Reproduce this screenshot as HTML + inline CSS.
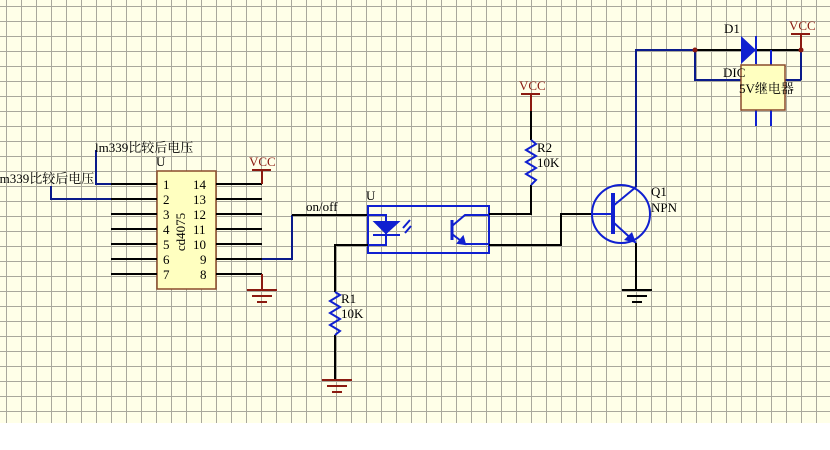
<!DOCTYPE html>
<html><head><meta charset="utf-8"><style>
body{margin:0;width:830px;height:450px;overflow:hidden;background:#fff;position:relative}
#grid{position:absolute;left:0;top:0;width:830px;height:423px;background-color:#ffffe8;
background-image:linear-gradient(to right,#a9a89c 0,#a9a89c 1px,transparent 1px),linear-gradient(to bottom,#a9a89c 0,#a9a89c 1px,transparent 1px);
background-size:15px 15px;background-position:6px 6px}
svg{position:absolute;left:0;top:0;display:block}
text{font-family:"Liberation Serif","Noto Serif CJK SC","Noto Sans CJK SC",serif;font-size:13px}
</style></head><body>
<div id="grid"></div>
<svg width="830" height="450" viewBox="0 0 830 450" xmlns="http://www.w3.org/2000/svg">

<!-- cd4075 -->
<rect x="157" y="171" width="59" height="118" fill="#ffffc0" stroke="#8a4b2a" stroke-width="1.5"/>
<g stroke="#000" stroke-width="2">
<path d="M111 184H157M111 199H157M111 214H157M111 229H157M111 244H157M111 259H157M111 274H157"/>
<path d="M216 184H262M216 199H262M216 214H262M216 229H262M216 244H262M216 259H262M216 274H262"/>
</g>
<g fill="#000">
<text x="163" y="189">1</text><text x="163" y="204">2</text><text x="163" y="219">3</text><text x="163" y="234">4</text><text x="163" y="249">5</text><text x="163" y="264">6</text><text x="163" y="279">7</text>
<text x="193" y="189">14</text><text x="193" y="204">13</text><text x="193" y="219">12</text><text x="193" y="234">11</text><text x="193" y="249">10</text><text x="200" y="264">9</text><text x="200" y="279">8</text>
</g>
<text transform="translate(185,232) rotate(-90)" text-anchor="middle" font-size="14">cd4075</text>
<text x="156" y="166">U</text>
<path d="M111 184H96V150M111 199H51V186" stroke="#0a1a8a" stroke-width="2" fill="none"/>
<text x="95" y="152">lm339比较后电压</text>
<text x="-4" y="183">lm339比较后电压</text>
<path d="M262 184V170M252 170H271" stroke="#8b1a10" stroke-width="2"/>
<text x="249" y="166" fill="#8b1a10">VCC</text>
<path d="M262 274V290" stroke="#8b1a10" stroke-width="2"/>
<path d="M247 290H277M252 296H272M257 302H267" stroke="#8b1a10" stroke-width="2"/>
<path d="M262 259H292V215" stroke="#0a1a8a" stroke-width="2" fill="none"/>
<path d="M292 215H368" stroke="#000" stroke-width="2"/>
<text x="306" y="211">on/off</text>

<!-- opto -->
<rect x="368" y="206" width="121" height="47" fill="none" stroke="#1020d0" stroke-width="2"/>
<text x="366" y="200">U</text>
<g stroke="#1020d0" stroke-width="2" fill="#1020d0">
<path d="M368 215H386V245H368" fill="none"/>
<path d="M375 222H398L386 233Z"/>
<path d="M373 235H400"/>
<path d="M403 228L410 220M405 233L411 226"/>
<path d="M452 220V240" stroke-width="3"/>
<path d="M452 226L465 215H489M452 234L465 244H489" fill="none"/>
<path d="M465 244L458 243L463 237Z"/>
</g>
<path d="M368 245H335V292M335 335V379" stroke="#000" stroke-width="2" fill="none"/>
<path d="M335 292L340 295L330 301L340 307L330 313L340 319L330 325L340 331L335 335" stroke="#1020d0" stroke-width="2" fill="none"/>
<text x="341" y="303">R1</text><text x="341" y="318">10K</text>
<path d="M322 380H352M327 386H347M332 392H342" stroke="#8b1a10" stroke-width="2"/>

<!-- R2 -->
<path d="M489 214H531V185M531 140V111" stroke="#000" stroke-width="2" fill="none"/>
<path d="M531 140L536 144L526 150L536 156L526 162L536 168L526 174L536 180L531 185" stroke="#1020d0" stroke-width="2" fill="none"/>
<path d="M531 111V94M521 94H540" stroke="#8b1a10" stroke-width="2"/>
<text x="519" y="90" fill="#8b1a10">VCC</text>
<text x="537" y="152">R2</text><text x="537" y="167">10K</text>
<path d="M489 245H561V214H592" stroke="#000" stroke-width="2" fill="none"/>

<!-- Q1 -->
<circle cx="621" cy="214" r="29" fill="none" stroke="#1020d0" stroke-width="2"/>
<g stroke="#1020d0" stroke-width="2" fill="none">
<path d="M592 214H613"/>
<path d="M613 193V234" stroke-width="4"/>
<path d="M613 206L636 187M613 222L636 243"/>
</g>
<path d="M636 187V50H695" stroke="#0a1a8a" stroke-width="2" fill="none"/>
<path d="M636 243L624 240L632 232Z" fill="#1020d0"/>
<path d="M636 243V290" stroke="#000" stroke-width="2"/>
<path d="M622 290H652M627 296H647M632 302H642" stroke="#000" stroke-width="2"/>
<text x="651" y="196">Q1</text><text x="651" y="212">NPN</text>

<!-- relay / diode -->
<path d="M695 50V80H741M801 80H785M801 50V80" stroke="#0a1a8a" stroke-width="2" fill="none"/>
<path d="M695 50H741M756 50H801" stroke="#000" stroke-width="2"/>
<path d="M741 36L756 50L741 64Z" fill="#1020d0"/>
<path d="M756 36V64M771 50V65M756 110V126M771 110V126" stroke="#1020d0" stroke-width="2"/>
<rect x="741" y="65" width="44" height="45" fill="#ffffc0" stroke="#8a4b2a" stroke-width="1.5"/>
<text x="739" y="93" font-family="Liberation Sans,Noto Sans CJK SC,sans-serif" font-size="12">5V继电器</text>
<text x="723" y="77">DIC</text>
<text x="724" y="33">D1</text>
<circle cx="695" cy="50" r="2.5" fill="#8b1a10"/>
<circle cx="801" cy="50" r="2.5" fill="#8b1a10"/>
<path d="M801 50V34M791 34H810" stroke="#8b1a10" stroke-width="2"/>
<text x="789" y="30" fill="#8b1a10">VCC</text>
</svg>
</body></html>
